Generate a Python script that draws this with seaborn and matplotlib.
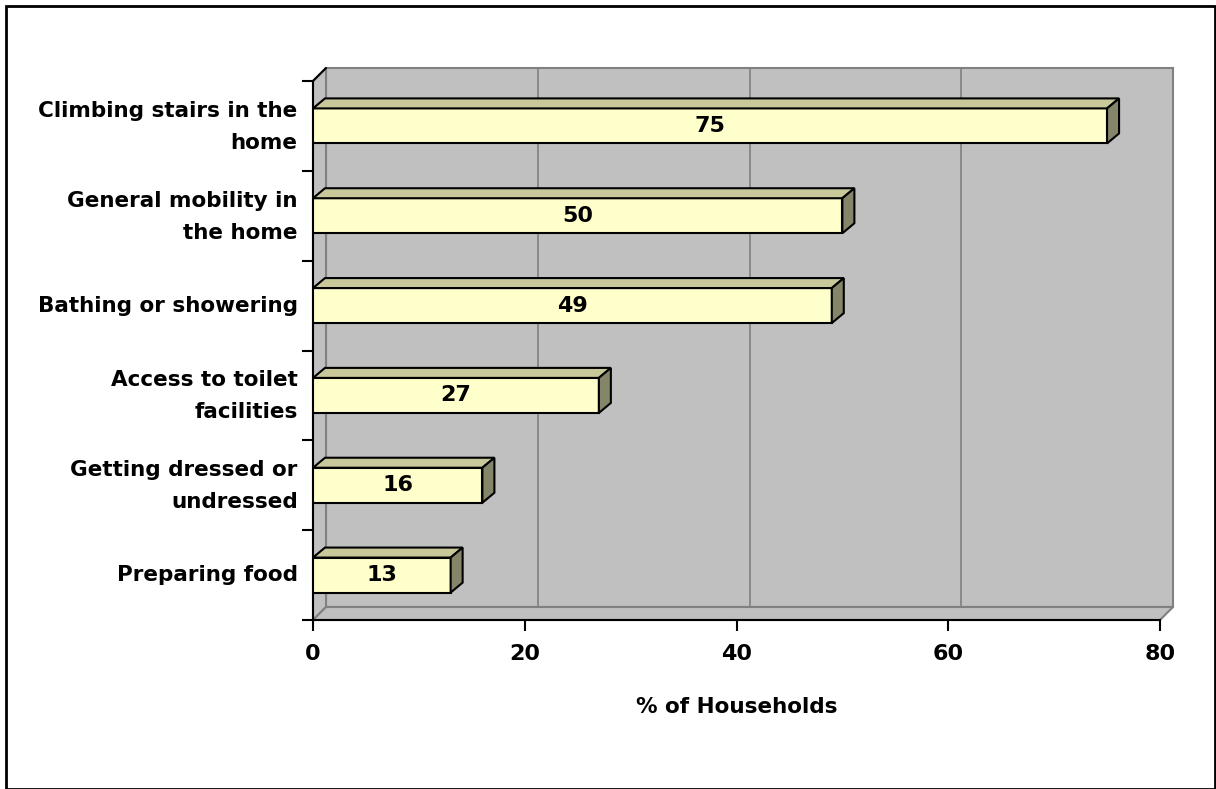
import matplotlib
matplotlib.use("Agg")
import matplotlib.pyplot as plt
import matplotlib.transforms as mtrans
from matplotlib.patches import Polygon, Rectangle
import seaborn as sns
import pandas as pd

categories = ["Climbing stairs in the\nhome", "General mobility in\nthe home",
              "Bathing or showering", "Access to toilet\nfacilities",
              "Getting dressed or\nundressed", "Preparing food"]
values = [75, 50, 49, 27, 16, 13]
xticks = [0, 20, 40, 60, 80]
xlabel = "% of Households"

df = pd.DataFrame({"cat": categories, "val": values})

sns.set_theme(style="white")
plt.rcParams["font.family"] = ["DejaVu Sans"]
plt.rcParams["font.weight"] = "bold"
for k in ["text.color", "axes.labelcolor", "xtick.color", "ytick.color"]:
    plt.rcParams[k] = "black"

W, H, DPI = 1216, 789, 100
fig = plt.figure(figsize=(W / DPI, H / DPI), dpi=DPI)
fig.patch.set_facecolor("white")

L, R, T, B = 313, 1160, 81, 620
ax = fig.add_axes([L / W, 1 - B / H, (R - L) / W, (B - T) / H])
ax.patch.set_visible(False)

DX, DY = 13, 13      # wall depth (px)
BDX, BDY = 12, 10    # bar depth (px)
off = mtrans.ScaledTranslation(DX / DPI, DY / DPI, fig.dpi_scale_trans)
pix = mtrans.IdentityTransform()

grey = "#C0C0C0"
edge = "#808080"

sns.barplot(data=df, y="cat", x="val", orient="h", ax=ax, color="#FFFFCC",
            width=0.39, edgecolor="black", linewidth=1.5, saturation=1,
            zorder=3)
bars = list(ax.containers[0])
ax.set_xlim(0, 80)
ax.set_ylim(len(categories) - 0.5, -0.5)
ax.set_xticks(xticks)

# back wall
ax.add_patch(Rectangle((0, 0), 1, 1, transform=ax.transAxes + off,
                       facecolor=grey, edgecolor=edge, lw=1.5, zorder=0,
                       clip_on=False))

def ax_px(x, y):
    return ax.transAxes.transform((x, y))

# left wall and floor
for pts in ([(0, 0), (0, 1)], [(0, 0), (1, 0)]):
    (x0, y0), (x1, y1) = [ax_px(*p) for p in pts]
    poly = [(x0, y0), (x1, y1), (x1 + DX, y1 + DY), (x0 + DX, y0 + DY)]
    ax.add_patch(Polygon(poly, closed=True, facecolor=grey, edgecolor=edge,
                         lw=1.5, zorder=0.5, transform=pix, clip_on=False))
(x0, y0) = ax_px(0, 1)
ax.plot([x0, x0 + DX], [y0, y0 + DY], color="black", lw=1.5,
        transform=pix, zorder=2, clip_on=False)

# gridlines on back wall
blend = mtrans.blended_transform_factory(ax.transData, ax.transAxes) + off
for xv in xticks[1:-1]:
    ax.plot([xv, xv], [0, 1], color=edge, lw=1.2, transform=blend,
            zorder=1, clip_on=False)

# 3D faces of bars
for p in bars:
    x, y, w, h = p.get_x(), p.get_y(), p.get_width(), p.get_height()
    tl = ax.transData.transform((x, y))
    tr = ax.transData.transform((x + w, y))
    br = ax.transData.transform((x + w, y + h))
    top = [tl, tr, (tr[0] + BDX, tr[1] + BDY), (tl[0] + BDX, tl[1] + BDY)]
    side = [tr, br, (br[0] + BDX, br[1] + BDY), (tr[0] + BDX, tr[1] + BDY)]
    for poly, fc in ((top, "#C8C89A"), (side, "#85856A")):
        ax.add_patch(Polygon(poly, closed=True, facecolor=fc,
                             edgecolor="black", lw=1.5, zorder=4,
                             transform=pix, clip_on=False))

for p, v in zip(bars, values):
    ax.text(p.get_x() + p.get_width() / 2, p.get_y() + p.get_height() / 2,
            f"{v}", ha="center", va="center", fontsize=16, fontweight="bold",
            color="black", zorder=5)

ax.set_ylabel("")
ax.set_xlabel(xlabel, fontsize=15.5, fontweight="bold", labelpad=24)
ax.set_yticks([i + 0.5 for i in range(-1, len(categories))])
ax.set_yticklabels([""] * (len(categories) + 1))
ax.set_yticks(range(len(categories)), minor=True)
ax.set_yticklabels(categories, minor=True, fontsize=15.5, fontweight="bold",
                   linespacing=1.75, ha="right")
ax.tick_params(axis="y", which="minor", length=0, pad=11)
ax.tick_params(axis="y", which="major", length=8, width=1.5, color="black",
               direction="out", left=True)
ax.tick_params(axis="x", length=8, width=1.5, color="black", direction="out",
               bottom=True, labelsize=16, pad=9)
for lbl in ax.get_xticklabels():
    lbl.set_fontweight("bold")
# raise labels slightly (two-line labels sit higher in the reference)
for lbl in ax.get_yticklabels(minor=True):
    shift = 7 if "\n" in lbl.get_text() else 2
    lbl.set_transform(lbl.get_transform() +
                      mtrans.ScaledTranslation(0, shift / DPI, fig.dpi_scale_trans))
for s in ["top", "right"]:
    ax.spines[s].set_visible(False)
for s in ["left", "bottom"]:
    ax.spines[s].set_color("black")
    ax.spines[s].set_linewidth(1.5)
    ax.spines[s].set_zorder(2)

# outer border
fig.add_artist(Rectangle((6 / W, 0), (1215 - 6) / W, 1 - 6 / H,
                         transform=fig.transFigure, fill=False,
                         edgecolor="black", lw=2))

fig.savefig("out.png", dpi=DPI)
